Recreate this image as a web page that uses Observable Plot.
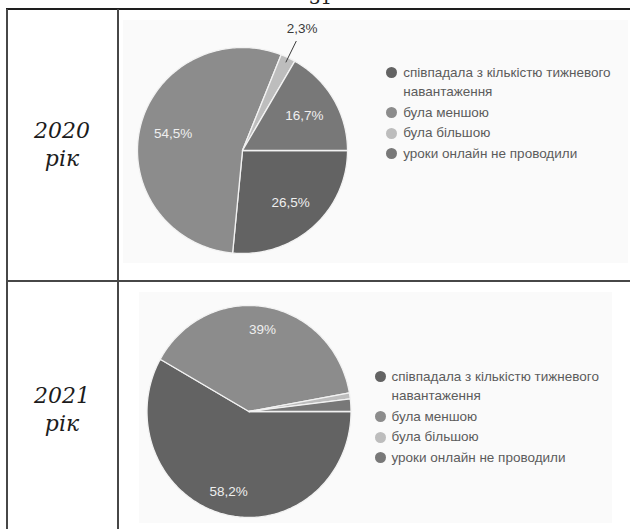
<!DOCTYPE html>
<html>
<head>
<meta charset="utf-8">
<script src="https://cdn.jsdelivr.net/npm/d3@7"></script>
<script src="https://cdn.jsdelivr.net/npm/@observablehq/plot@0.6"></script>
<style>
  body { margin: 0; background: #fff; }
  #page { position: relative; width: 630px; height: 529px; overflow: hidden; background: #fff;
          font-family: "Liberation Sans", Arial, sans-serif; }
  .line { position: absolute; background: #474747; }
  .pagenum { position: absolute; font-family: "DejaVu Serif", serif; font-size: 18px; line-height: 18px; color: #222; }
  .yr { position: absolute; left: 7px; width: 110px; text-align: center; font-family: "DejaVu Serif", serif;
        font-style: italic; font-size: 22px; line-height: 22px; color: #1c1c1c; }
  .panel { position: absolute; }
  .legend { position: absolute; font-size: 13.5px; color: #5c5c5c; }
  .item { display: flex; align-items: flex-start; margin-bottom: 1px; }
  .dot { flex: none; width: 11px; height: 11px; border-radius: 50%; margin-top: 4.25px; margin-right: 6px; }
  .lbl { width: 230px; line-height: 19.5px; }
</style>
</head>
<body>
<div id="page"></div>
<script>
// ---------- data ----------
const categories = [
  "співпадала з кількістю тижневого навантаження",
  "була меншою",
  "була більшою",
  "уроки онлайн не проводили"
];
const colors = ["#636363", "#8c8c8c", "#bdbdbd", "#787878"];
const years = ["2020", "2021"];
const yearWord = "рік";
const values2020 = [26.5, 54.5, 2.3, 16.7];
const values2021 = [58.2, 39, 0.9, 1.9];
const pageNumber = "31";

// ---------- layout (positions only) ----------
const layouts = [
  { values: values2020, panel: {left: 123, top: 20, width: 505, height: 243},
    cx: 242, cy: 150, rx: 105, ry: 103, labelR: 0.68,
    legend: {dotX: 391.7, firstY: 72.7}, yearBase: 139, wordBase: 167 },
  { values: values2021, panel: {left: 139, top: 292, width: 473, height: 231},
    cx: 248.5, cy: 411, rx: 102, ry: 106, labelR: 0.78,
    legend: {dotX: 380, firstY: 376.7}, yearBase: 404, wordBase: 432 }
];

const page = document.getElementById("page");

function addLine(l, t, w, h, c) {
  const d = document.createElement("div");
  d.className = "line";
  Object.assign(d.style, {left: l + "px", top: t + "px", width: w + "px", height: h + "px"});
  if (c) d.style.background = c;
  page.appendChild(d);
}

// page number (cut at the top edge, as in the scan)
const pn = document.createElement("div");
pn.className = "pagenum";
pn.textContent = pageNumber;
Object.assign(pn.style, {left: "309px", top: "-10.7px"});
page.appendChild(pn);

// table rules
addLine(6, 8, 624, 2, "#1e1e1e");
addLine(6, 9, 2, 520);
addLine(116.5, 9, 2, 520);
addLine(6, 280, 624, 2);

function fmt(v) { return String(v).replace(".", ",") + "%"; }

layouts.forEach((L, yi) => {
  // year labels
  const ascent = 18.6;
  const y1 = document.createElement("div");
  y1.className = "yr"; y1.textContent = years[yi];
  y1.style.top = (L.yearBase - ascent) + "px";
  page.appendChild(y1);
  const y2 = document.createElement("div");
  y2.className = "yr"; y2.textContent = yearWord;
  y2.style.top = (L.wordBase - ascent) + "px";
  page.appendChild(y2);

  // slices from the values
  const vals = L.values;
  const total = d3.sum(vals);
  let a = Math.PI / 2; // start at 3 o'clock, go clockwise
  const rows = [], inside = [], outside = [];
  vals.forEach((v, i) => {
    const a0 = a, a1 = a + v / total * 2 * Math.PI;
    const n = Math.max(2, Math.ceil((a1 - a0) / (Math.PI / 180)));
    rows.push({cat: categories[i], x: 0, y: 0});
    for (let k = 0; k <= n; k++) {
      const t = a0 + (a1 - a0) * k / n;
      rows.push({cat: categories[i], x: Math.sin(t), y: Math.cos(t)});
    }
    rows.push({cat: categories[i], x: 0, y: 0});
    const m = (a0 + a1) / 2;
    if (v >= 5) inside.push({x: L.labelR * Math.sin(m), y: L.labelR * Math.cos(m), t: fmt(v)});
    else if (v >= 2) outside.push({
      x1: 0.95 * Math.sin(m), y1: 0.95 * Math.cos(m),
      x2: 1.18 * Math.sin(m), y2: 1.18 * Math.cos(m),
      x: 1.31 * Math.sin(m), y: 1.31 * Math.cos(m), t: fmt(v)});
    a = a1;
  });

  const P = L.panel;
  const chart = Plot.plot({
    width: P.width,
    height: P.height,
    margin: 0,
    style: {background: "#fafafa", fontFamily: "Liberation Sans, Arial, sans-serif", overflow: "visible"},
    x: {domain: [-1, 1], range: [L.cx - L.rx - P.left, L.cx + L.rx - P.left], axis: null},
    y: {domain: [-1, 1], range: [L.cy + L.ry - P.top, L.cy - L.ry - P.top], axis: null},
    color: {domain: categories, range: colors},
    marks: [
      Plot.line(rows, {x: "x", y: "y", z: "cat", fill: "cat", stroke: "#f2f2f2", strokeWidth: 1.3,
                       strokeLinejoin: "round", curve: "linear"}),
      Plot.text(inside, {x: "x", y: "y", text: "t", fill: "#efefef", fontSize: 13.5}),
      Plot.link(outside, {x1: "x1", y1: "y1", x2: "x2", y2: "y2", stroke: "#3a3a3a", strokeWidth: 1}),
      Plot.text(outside, {x: "x", y: "y", text: "t", fill: "#3a3a3a", fontSize: 13.5})
    ]
  });
  chart.classList.add("panel");
  chart.style.left = P.left + "px";
  chart.style.top = P.top + "px";
  page.appendChild(chart);

  // legend
  const lg = document.createElement("div");
  lg.className = "legend";
  lg.style.left = (L.legend.dotX - 5.5) + "px";
  lg.style.top = (L.legend.firstY - 9.75) + "px";
  categories.forEach((c, i) => {
    const it = document.createElement("div");
    it.className = "item";
    const d = document.createElement("span");
    d.className = "dot";
    d.style.background = colors[i];
    const s = document.createElement("span");
    s.className = "lbl";
    s.textContent = c;
    it.appendChild(d); it.appendChild(s);
    lg.appendChild(it);
  });
  page.appendChild(lg);
});
</script>
</body>
</html>
